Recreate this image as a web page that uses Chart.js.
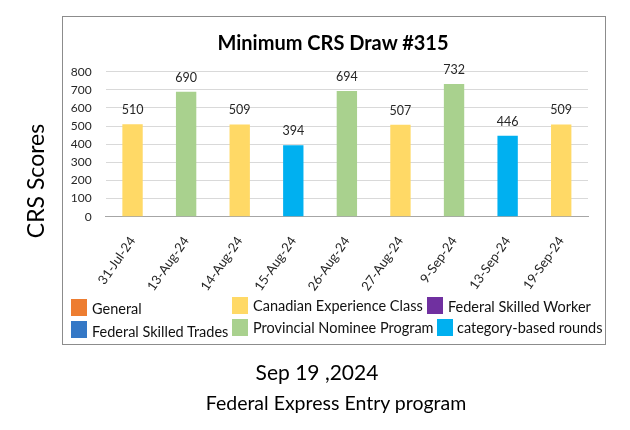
<!DOCTYPE html>
<html>
<head>
<meta charset="utf-8">
<script src="https://cdn.jsdelivr.net/npm/chart.js@4.4.1/dist/chart.umd.min.js"></script>
<style>
  html, body { margin: 0; padding: 0; background: #fff; }
  #wrap { position: relative; width: 630px; height: 430px; overflow: hidden; font-family: Lato, "Open Sans", sans-serif; }
  #c { position: absolute; left: 0; top: 0; }
  #box { position: absolute; left: 62px; top: 16px; width: 544px; height: 329px; border: 1px solid #8c8c8c; box-sizing: border-box; }
  .abs { position: absolute; white-space: nowrap; color: #000; }
  .lg-box { position: absolute; width: 16px; height: 17px; }
  .lg-txt { position: absolute; font-size: 14.5px; line-height: 15px; color: #111; white-space: nowrap; transform: translateY(-50%); }
</style>
</head>
<body>
<div id="wrap">
  <div id="box"></div>
  <canvas id="c" width="630" height="430"></canvas>
  <div id="title" class="abs" style="left:333px;top:42px;font-size:20px;font-weight:bold;transform:translate(-50%,-50%);"></div>
  <div id="ytitle" class="abs" style="left:35px;top:181px;font-size:23px;transform:translate(-50%,-50%) rotate(-90deg);">CRS Scores</div>
  <div id="legend"></div>
  <div class="abs" style="left:317px;top:371px;font-size:21px;transform:translate(-50%,-50%);">Sep 19 ,2024</div>
  <div class="abs" style="left:336px;top:402px;font-size:19.5px;transform:translate(-50%,-50%);">Federal Express Entry program</div>
</div>
<script>
// ---- data ----
const categories = ["31-Jul-24", "13-Aug-24", "14-Aug-24", "15-Aug-24", "26-Aug-24", "27-Aug-24", "9-Sep-24", "13-Sep-24", "19-Sep-24"];
const scores = [510, 690, 509, 394, 694, 507, 732, 446, 509];
const drawTypes = ["Canadian Experience Class", "Provincial Nominee Program", "Canadian Experience Class", "category-based rounds", "Provincial Nominee Program", "Canadian Experience Class", "Provincial Nominee Program", "category-based rounds", "Canadian Experience Class"];
const seriesNames = ["General", "Federal Skilled Trades", "Canadian Experience Class", "Provincial Nominee Program", "Federal Skilled Worker", "category-based rounds"];
const seriesColors = ["#ED7D31", "#3478C6", "#FFD966", "#A9D18E", "#7030A0", "#00B0F0"];
const yTicks = [0, 100, 200, 300, 400, 500, 600, 700, 800];
const chartTitle = "Minimum CRS Draw #315";

document.getElementById('title').textContent = chartTitle;

// ---- datasets: one per draw type ----
const datasets = seriesNames.map((name, i) => ({
  label: name,
  data: scores.map((v, j) => drawTypes[j] === name ? v : null),
  backgroundColor: seriesColors[i],
  borderWidth: 0,
  barPercentage: 0.38,
  categoryPercentage: 1.0
}));

const valueLabels = {
  id: 'valueLabels',
  afterDatasetsDraw(chart) {
    const ctx = chart.ctx;
    ctx.save();
    ctx.font = '12.5px Lato, sans-serif';
    ctx.fillStyle = '#262626';
    ctx.textAlign = 'center';
    ctx.textBaseline = 'middle';
    chart.data.datasets.forEach((ds, di) => {
      const meta = chart.getDatasetMeta(di);
      meta.data.forEach((bar, j) => {
        const v = ds.data[j];
        if (v == null) return;
        ctx.fillText(String(v), bar.x, bar.y - 14);
      });
    });
    ctx.restore();
  }
};

const chart = new Chart(document.getElementById('c'), {
  type: 'bar',
  data: { labels: categories, datasets },
  plugins: [valueLabels],
  options: {
    responsive: false,
    animation: false,
    devicePixelRatio: 1,
    layout: { padding: { left: 67.75, right: 42, top: 71.7, bottom: 0 } },
    plugins: {
      legend: { display: false },
      tooltip: { enabled: false },
      title: { display: false }
    },
    scales: {
      x: {
        stacked: true,
        grid: { display: false },
        border: { display: true, color: '#a6a6a6', width: 1 },
        ticks: {
          color: '#262626',
          font: { family: 'Lato', size: 13 },
          minRotation: 55, maxRotation: 55,
          padding: 9
        },
        afterFit: s => { s.height = 430 - 216.7; }
      },
      y: {
        stacked: true,
        min: 0, max: 800,
        afterBuildTicks: s => { s.ticks = yTicks.map(v => ({ value: v })); },
        grid: { color: '#d9d9d9', drawTicks: false },
        border: { display: false },
        ticks: {
          color: '#262626',
          font: { family: 'Lato', size: 12 },
          padding: 14
        },
        afterFit: s => { s.width = 38; }
      }
    }
  }
});

// ---- legend (HTML, built from series) ----
const legendPos = [
  { bx: 71, by: 299, tx: 92, ty: 308 },
  { bx: 71, by: 321, tx: 92, ty: 331 },
  { bx: 232, by: 297, tx: 253, ty: 305 },
  { bx: 232, by: 319, tx: 253, ty: 327 },
  { bx: 427, by: 297, tx: 448, ty: 306 },
  { bx: 437, by: 319, tx: 457, ty: 327 }
];
const lg = document.getElementById('legend');
seriesNames.forEach((name, i) => {
  const p = legendPos[i];
  const b = document.createElement('div');
  b.className = 'lg-box';
  b.style.left = p.bx + 'px'; b.style.top = p.by + 'px';
  b.style.background = seriesColors[i];
  lg.appendChild(b);
  const t = document.createElement('div');
  t.className = 'lg-txt';
  t.style.left = p.tx + 'px'; t.style.top = p.ty + 'px';
  t.textContent = name;
  lg.appendChild(t);
});
</script>
</body>
</html>
